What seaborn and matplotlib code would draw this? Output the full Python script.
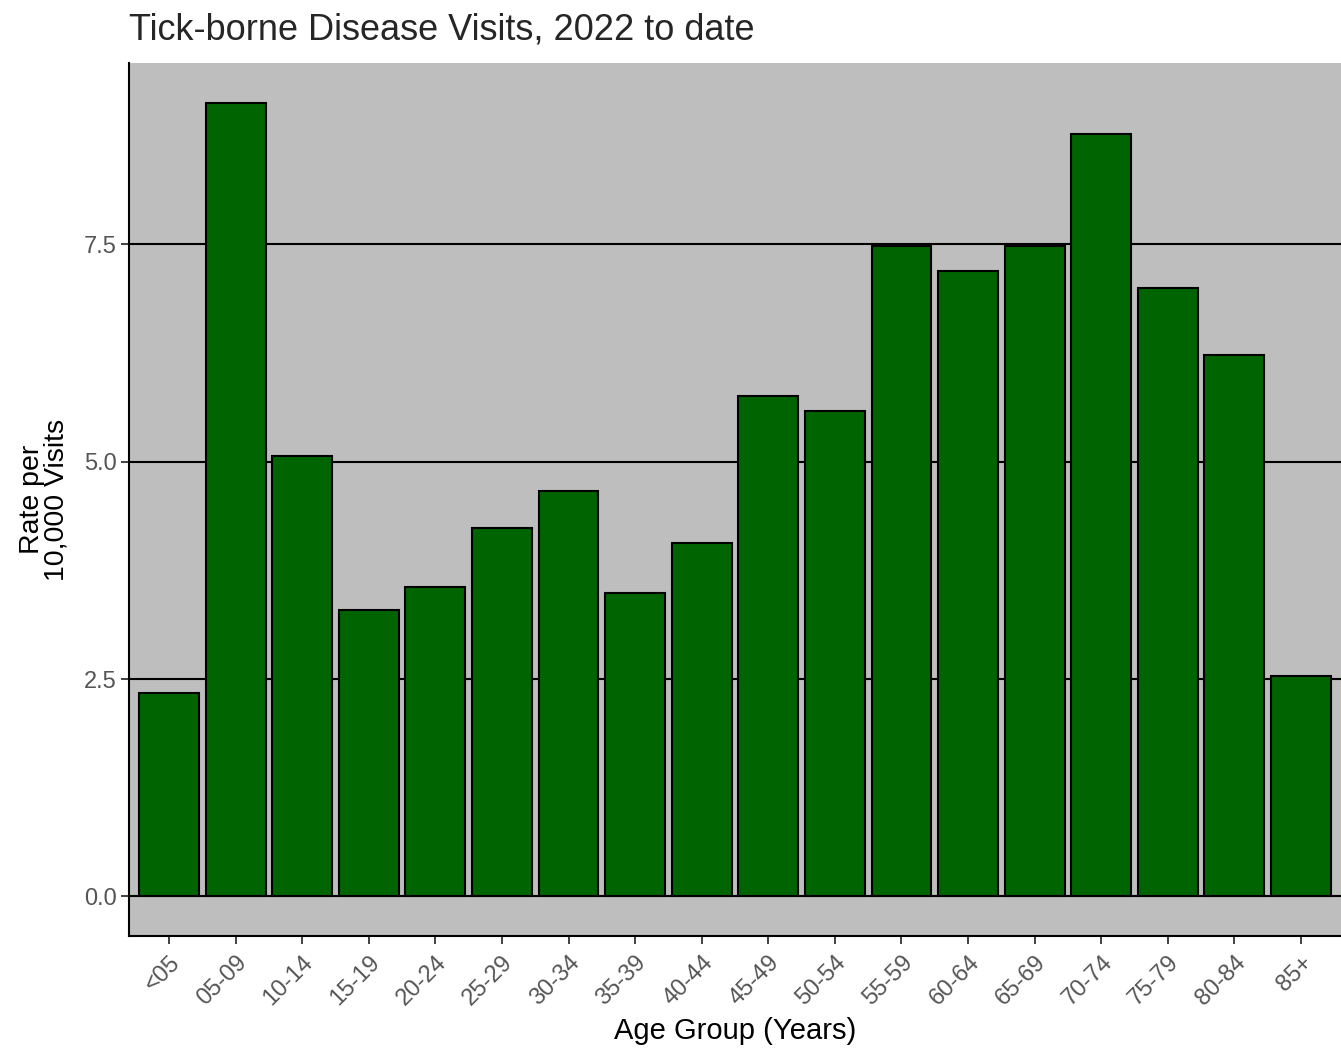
import pandas as pd
import matplotlib.pyplot as plt
import seaborn as sns

# Daten
age_groups = ['<05', '05-09', '10-14', '15-19', '20-24', '25-29', '30-34', '35-39', '40-44',
              '45-49', '50-54', '55-59', '60-64', '65-69', '70-74', '75-79', '80-84', '85+']
rates = [2.34, 9.13, 5.07, 3.29, 3.56, 4.24, 4.66, 3.49, 4.06,
         5.76, 5.58, 7.48, 7.19, 7.48, 8.77, 7.00, 6.23, 2.53]

df = pd.DataFrame({'age_group': age_groups, 'rate': rates})

sns.set_style('white')
plt.rcParams['font.family'] = ['Liberation Sans', 'DejaVu Sans']

fig = plt.figure(figsize=(13.41, 10.51), dpi=100)
ax = fig.add_axes([0.0962, 0.1094, 0.9038, 0.8306])
ax.set_facecolor('#BEBEBE')

# Gitterlinien hinter den Balken
for y in [0, 2.5, 5.0, 7.5]:
    ax.axhline(y, color='black', linewidth=1.5, zorder=0)

sns.barplot(x='age_group', y='rate', data=df, color='#006400', saturation=1,
            edgecolor='black', linewidth=1.5, width=0.9, ax=ax, zorder=2)

ax.set_xlim(-0.6, len(age_groups) - 0.4)
ax.set_ylim(-0.456, 9.587)
ax.set_yticks([0, 2.5, 5.0, 7.5])
ax.set_yticklabels(['0.0', '2.5', '5.0', '7.5'])

for side in ['top', 'right']:
    ax.spines[side].set_visible(False)
for side in ['left', 'bottom']:
    ax.spines[side].set_color('black')
    ax.spines[side].set_linewidth(1.5)

ax.tick_params(axis='both', which='both', length=6, width=1.3, color='#333333',
               labelcolor='#555555', labelsize=17, left=True, bottom=True, pad=3)
ax.tick_params(axis='x', pad=5)
plt.setp(ax.get_xticklabels(), rotation=45, ha='right', va='top', rotation_mode='anchor')

ax.set_xlabel('Age Group (Years)', fontsize=21, color='black', labelpad=5)
ax.set_ylabel('Rate per\n10,000 Visits', fontsize=20.5, color='black', labelpad=10, linespacing=0.95)
ax.set_title('Tick-borne Disease Visits, 2022 to date', fontsize=26, loc='left', pad=17)

fig.savefig('out.png', dpi=100)
